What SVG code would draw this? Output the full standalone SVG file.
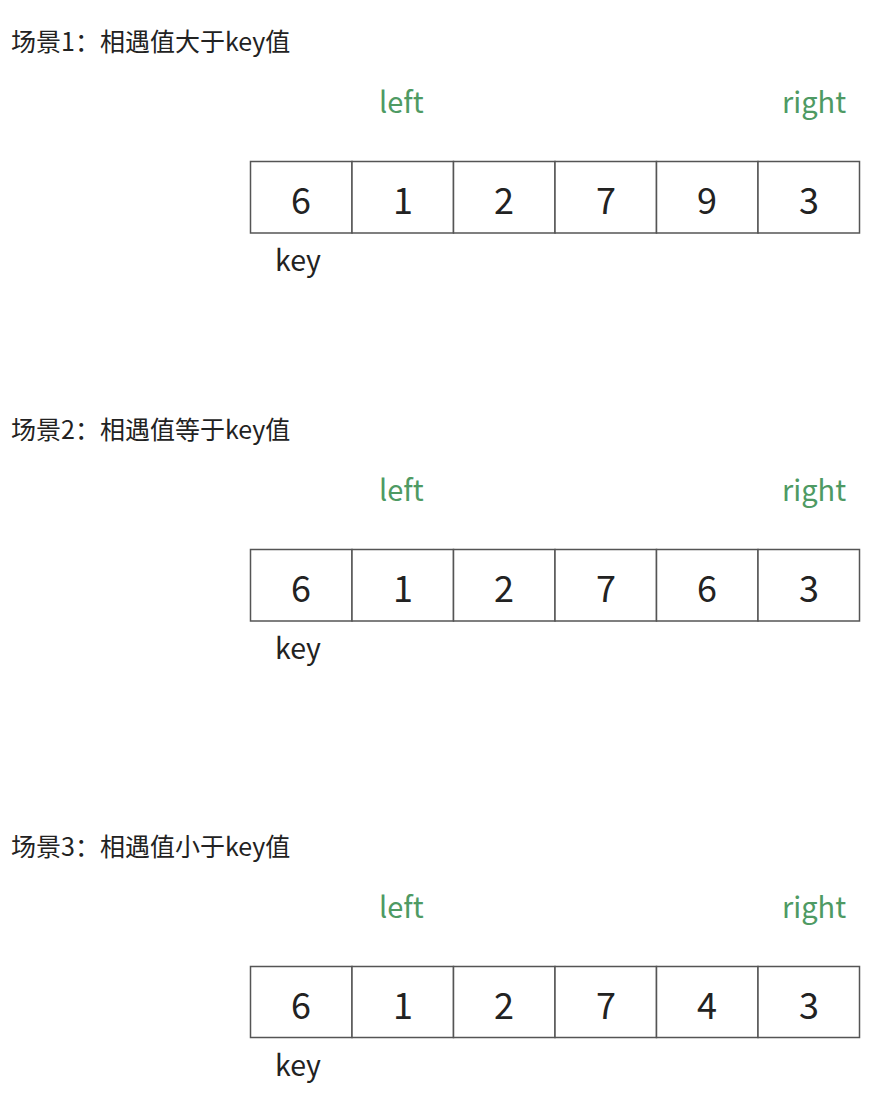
<svg xmlns="http://www.w3.org/2000/svg" width="882" height="1096" viewBox="0 0 882 1096">
<style>
.title{font-family:"Noto Sans CJK SC","Noto Sans",sans-serif;font-size:25px;fill:#222}
.ptr{font-family:"Noto Sans CJK SC","Noto Sans",sans-serif;font-size:29px;fill:#4e9a63}
.key{font-family:"Noto Sans CJK SC","Noto Sans",sans-serif;font-size:28.5px;fill:#222}
.num{font-family:"Noto Sans CJK SC","Noto Sans",sans-serif;font-size:36px;fill:#222;text-anchor:middle}
.cell{fill:#fff;stroke:#555;stroke-width:1.5}
</style>
<rect width="882" height="1096" fill="#fff"/>
<g id="scene1">
<text class="title" x="11" y="51">场景1：相遇值大于key值</text>
<text class="ptr" x="379" y="113">left</text>
<text class="ptr" x="782" y="113">right</text>
<g id="array1">
<rect class="cell" x="250.5" y="161.5" width="101.5" height="71.5"/>
<rect class="cell" x="352" y="161.5" width="101.5" height="71.5"/>
<rect class="cell" x="453.5" y="161.5" width="101.5" height="71.5"/>
<rect class="cell" x="555" y="161.5" width="101.5" height="71.5"/>
<rect class="cell" x="656.5" y="161.5" width="101.5" height="71.5"/>
<rect class="cell" x="758" y="161.5" width="101.5" height="71.5"/>
<text class="num" x="301" y="214">6</text>
<text class="num" x="403" y="214">1</text>
<text class="num" x="504" y="214">2</text>
<text class="num" x="606" y="214">7</text>
<text class="num" x="707" y="214">9</text>
<text class="num" x="809" y="214">3</text>
</g>
<text class="key" x="275" y="271">key</text>
</g>
<g id="scene2">
<text class="title" x="11" y="439">场景2：相遇值等于key值</text>
<text class="ptr" x="379" y="501">left</text>
<text class="ptr" x="782" y="501">right</text>
<g id="array2">
<rect class="cell" x="250.5" y="549.5" width="101.5" height="71.5"/>
<rect class="cell" x="352" y="549.5" width="101.5" height="71.5"/>
<rect class="cell" x="453.5" y="549.5" width="101.5" height="71.5"/>
<rect class="cell" x="555" y="549.5" width="101.5" height="71.5"/>
<rect class="cell" x="656.5" y="549.5" width="101.5" height="71.5"/>
<rect class="cell" x="758" y="549.5" width="101.5" height="71.5"/>
<text class="num" x="301" y="602">6</text>
<text class="num" x="403" y="602">1</text>
<text class="num" x="504" y="602">2</text>
<text class="num" x="606" y="602">7</text>
<text class="num" x="707" y="602">6</text>
<text class="num" x="809" y="602">3</text>
</g>
<text class="key" x="275" y="659">key</text>
</g>
<g id="scene3">
<text class="title" x="11" y="856">场景3：相遇值小于key值</text>
<text class="ptr" x="379" y="918">left</text>
<text class="ptr" x="782" y="918">right</text>
<g id="array3">
<rect class="cell" x="250.5" y="966.5" width="101.5" height="71"/>
<rect class="cell" x="352" y="966.5" width="101.5" height="71"/>
<rect class="cell" x="453.5" y="966.5" width="101.5" height="71"/>
<rect class="cell" x="555" y="966.5" width="101.5" height="71"/>
<rect class="cell" x="656.5" y="966.5" width="101.5" height="71"/>
<rect class="cell" x="758" y="966.5" width="101.5" height="71"/>
<text class="num" x="301" y="1019">6</text>
<text class="num" x="403" y="1019">1</text>
<text class="num" x="504" y="1019">2</text>
<text class="num" x="606" y="1019">7</text>
<text class="num" x="707" y="1019">4</text>
<text class="num" x="809" y="1019">3</text>
</g>
<text class="key" x="275" y="1076">key</text>
</g>
</svg>
